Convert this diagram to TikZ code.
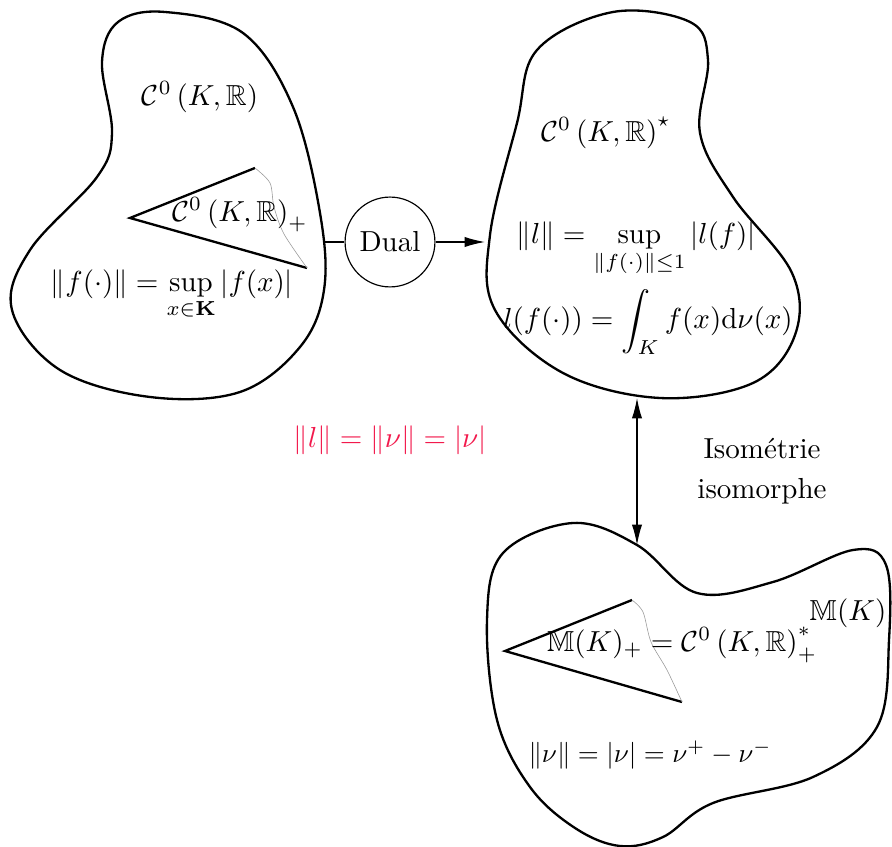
\documentclass[tikz,border=0pt]{standalone}
\usepackage{amsmath,amssymb}
\usetikzlibrary{arrows.meta,positioning}
\def\Czero{\mathcal{C}^0\left(K,\mathbb{R}\right)}
\def\Mes{\mathbb{M}(K)}
\definecolor{normred}{rgb}{0.95,0.1,0.3}

\begin{document}
\begin{tikzpicture}[x=0.345pt,y=-0.345pt,>={Latex[length=7pt,width=3.5pt]}]
    \tikzstyle{blob}=[thick,line join=round]
    \tikzstyle{cone}=[thick,line join=miter]
    \tikzstyle{rim}=[gray!80,very thin]
    \tikzstyle{lbl}=[inner sep=0pt]
    \useasboundingbox (0,0) rectangle (892,847);
    % espace de depart
    \draw[blob] plot[smooth cycle,tension=0.6] coordinates {(118,22) (165,12) (243,33) (293,107)
        (320,213) (324,290) (300,347) (240,392) (150,397) (60,370) (12,310) (30,250) (97,177)
        (112,133) (102,62)};
    \draw[cone] (255,168) -- (130,218) -- (307,268);
    \draw[rim] plot[smooth] coordinates {(255,168) (270,183) (274,207) (284,234) (307,268)};
    \node[lbl] (cz) at (200,97) {$\Czero$};
    \node[lbl] (czp) at (240,215) {$\Czero_+$};
    \node[lbl] (nf) at (172,295) {$\displaystyle \|f(\cdot)\|=\sup\limits_{x\in\mathbf{K}}|f(x)|$};
    \coordinate (lout) at (325,242);
    % espace dual
    \draw[blob] plot[smooth cycle,tension=0.6] coordinates {(613,12) (690,22) (708,60) (700,133)
        (733,197) (792,273) (795,335) (753,383) (660,398) (563,373) (495,310) (490,235) (517,123)
        (537,50)};
    \node[lbl] (czs) at (606,133) {$\Czero^\star$};
    \node[lbl] (nl) at (636,249) {$\displaystyle \|l\|=\sup\limits_{\|f(\cdot)\|\leq 1}|l(f)|$};
    \node[lbl] (lf) at (648,322) {$\displaystyle l(f(\cdot))=\int_K f(x)\mathrm{d}\nu(x)$};
    \coordinate (rin) at (485,242);
    \coordinate (rbot) at (637,398);
    % espace des mesures
    \draw[blob] plot[smooth cycle,tension=0.6] coordinates {(573,523) (637,545) (697,593) (773,582)
        (853,550) (886,565) (889,640) (877,727) (813,777) (713,803) (663,837) (620,846)
        (575,828) (530,787) (497,720) (487,620) (503,553)};
    \draw[cone] (632,600) -- (505,651) -- (682,702);
    \draw[rim] plot[smooth] coordinates {(632,600) (643,612) (651,642) (667,670) (682,702)};
    \node[lbl] (mk) at (848,613) {$\Mes$};
    \node[lbl] (mkp) at (682,645) {$\Mes_+=\Czero^*_+$};
    \node[lbl,scale=0.93] (nnu) at (650,755) {$\|\nu\|=|\nu|=\nu^+-\nu^-$};
    \coordinate (mtop) at (637,545);
    % liens
    \node[circle,draw,minimum size=31pt,inner sep=0pt] (dual) at (390,242) {Dual};
    \draw (lout) -- (dual);
    \draw[->] (dual) -- (rin);
    \draw[<->] (rbot) -- (mtop);
    \node[align=center] (iso) at (762,471) {Isométrie\\[2pt]isomorphe};
    \node[text=normred] (eq) at (390,440) {$\|l\|=\|\nu\|=|\nu|$};
\end{tikzpicture}
\end{document}
